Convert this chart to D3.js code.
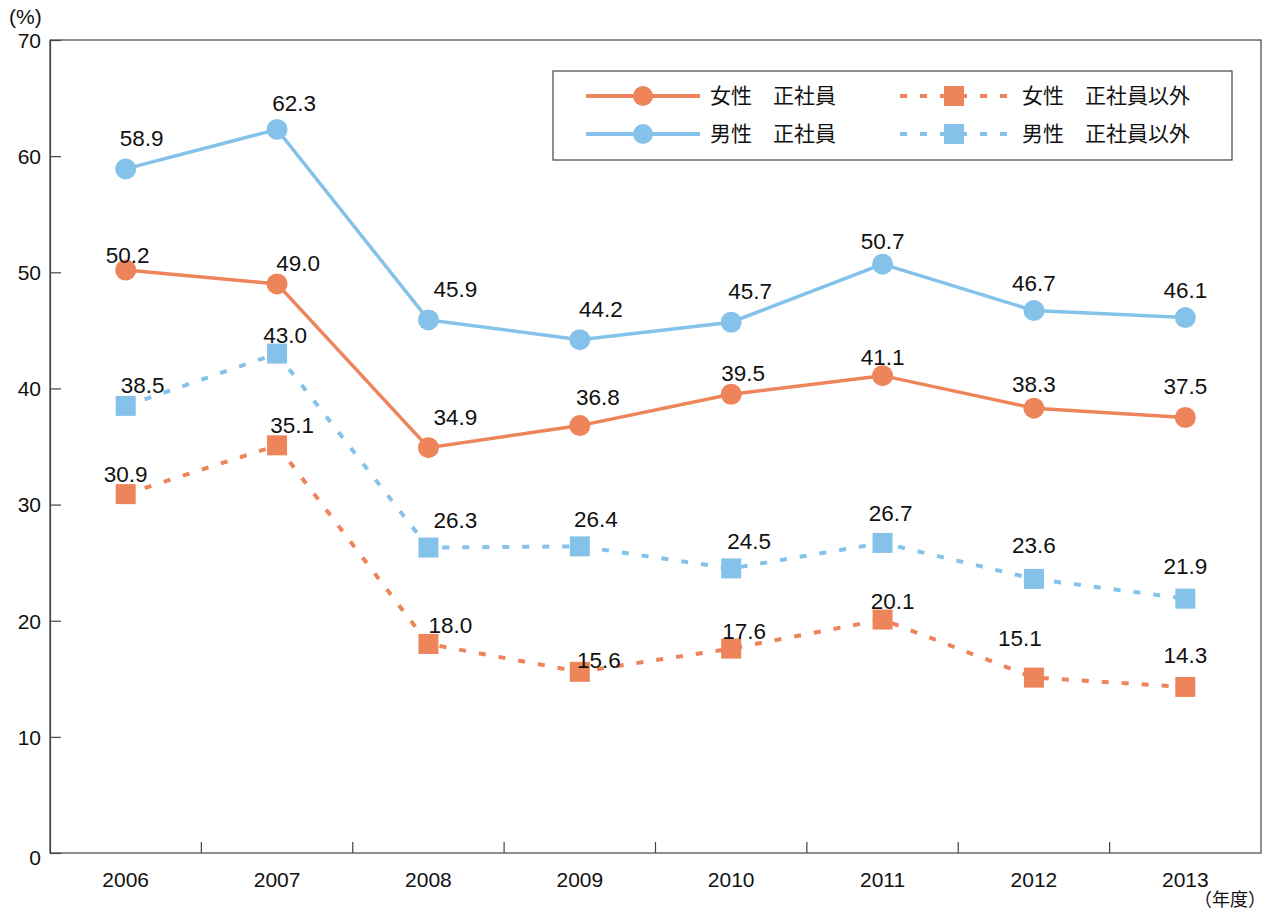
<!DOCTYPE html>
<html>
<head>
<meta charset="utf-8">
<script src="https://cdn.jsdelivr.net/npm/d3@7"></script>
<style>
  body { margin: 0; background: #fff; }
  text { font-family: "Liberation Sans", Arial, "Noto Sans CJK JP", sans-serif; fill: #111; }
  .jp { font-family: "Noto Sans CJK JP", sans-serif; }
</style>
</head>
<body>
<div id="chart"></div>
<script>
const years = ["2006", "2007", "2008", "2009", "2010", "2011", "2012", "2013"];
const yTicks = [0, 10, 20, 30, 40, 50, 60, 70];

// 女性 正社員
const womenRegular = [50.2, 49.0, 34.9, 36.8, 39.5, 41.1, 38.3, 37.5];
// 男性 正社員
const menRegular = [58.9, 62.3, 45.9, 44.2, 45.7, 50.7, 46.7, 46.1];
// 女性 正社員以外
const womenNonRegular = [30.9, 35.1, 18.0, 15.6, 17.6, 20.1, 15.1, 14.3];
// 男性 正社員以外
const menNonRegular = [38.5, 43.0, 26.3, 26.4, 24.5, 26.7, 23.6, 21.9];

const seriesNames = ["女性　正社員", "男性　正社員", "女性　正社員以外", "男性　正社員以外"];

// label nudges (px) relative to each point, per series
const labelNudge = {
  womenRegular:    [[2,-15],[21,-21],[27,-31],[18,-29],[12,-21],[0,-19],[0,-24],[0,-32]],
  menRegular:      [[16,-31],[17,-27],[27,-31],[21,-31],[19,-31],[0,-23],[0,-28],[0,-28]],
  womenNonRegular: [[0,-20],[15,-20],[22,-19],[19,-12],[13,-18],[10,-19],[-14,-40],[0,-32]],
  menNonRegular:   [[17,-21],[8,-19],[27,-28],[16,-27],[18,-28],[8,-30],[0,-34],[0,-33]]
};

const orange = "#ee845a", blue = "#84c2ea";

const W = 1265, H = 915;
const margin = {top: 40, right: 4, bottom: 62, left: 50};
const width = W - margin.left - margin.right,
      height = H - margin.top - margin.bottom;

const root = d3.select("#chart").append("svg")
    .attr("width", W).attr("height", H);
const svg = root.append("g")
    .attr("transform", `translate(${margin.left},${margin.top})`);

const x = d3.scaleBand().domain(years).range([0, width]);
const y = d3.scaleLinear().domain([0, 70]).range([height, 0]);
const cx = d => x(d) + x.bandwidth() / 2;

// frame
svg.append("rect")
    .attr("width", width).attr("height", height)
    .attr("fill", "none").attr("stroke", "#444").attr("stroke-width", 1.2);

// y axis, ticks inward
const yAxis = svg.append("g")
    .call(d3.axisLeft(y).tickValues(yTicks).tickSize(-11).tickPadding(20).tickFormat(d3.format("d")));
yAxis.select(".domain").attr("stroke", "#444").attr("stroke-width", 1.2);
yAxis.selectAll(".tick line").attr("stroke", "#444").attr("stroke-width", 1.2);
yAxis.selectAll(".tick text").attr("font-size", 21).attr("x", -9)
    .attr("dy", (d) => d === 0 ? "0.55em" : "0.35em");

// x axis: labels centered, ticks at band boundaries going up
const xAxis = svg.append("g")
    .attr("transform", `translate(0,${height})`)
    .call(d3.axisBottom(x).tickSize(0).tickPadding(19));
xAxis.select(".domain").remove();
xAxis.selectAll(".tick text").attr("font-size", 21);
svg.append("g").selectAll("line")
    .data(years.slice(1))
    .join("line")
    .attr("x1", d => x(d)).attr("x2", d => x(d))
    .attr("y1", height).attr("y2", height - 11)
    .attr("stroke", "#444").attr("stroke-width", 1.2);

root.append("text")
    .attr("x", 9).attr("y", 24).attr("font-size", 21).text("(%)");
root.append("text").attr("class", "jp")
    .attr("x", 1266).attr("y", 906).attr("text-anchor", "end").attr("font-size", 18).text("（年度）");

const series = [
  {key: "womenNonRegular", values: womenNonRegular, color: orange, dashed: true},
  {key: "menNonRegular", values: menNonRegular, color: blue, dashed: true},
  {key: "womenRegular", values: womenRegular, color: orange, dashed: false},
  {key: "menRegular", values: menRegular, color: blue, dashed: false}
];

const line = d3.line().x((d, i) => cx(years[i])).y(d => y(d));

series.forEach(s => {
  const g = svg.append("g");
  g.append("path")
      .datum(s.values)
      .attr("fill", "none")
      .attr("stroke", s.color)
      .attr("stroke-width", s.dashed ? 4 : 3.5)
      .attr("stroke-dasharray", s.dashed ? "7,13" : null)
      .attr("d", line);
  if (s.dashed) {
    g.selectAll("rect").data(s.values).join("rect")
        .attr("x", (d, i) => cx(years[i]) - 10)
        .attr("y", d => y(d) - 10)
        .attr("width", 20).attr("height", 20)
        .attr("fill", s.color);
  } else {
    g.selectAll("circle").data(s.values).join("circle")
        .attr("cx", (d, i) => cx(years[i]))
        .attr("cy", d => y(d))
        .attr("r", 10.5)
        .attr("fill", s.color);
  }
  g.selectAll("text").data(s.values).join("text")
      .attr("x", (d, i) => cx(years[i]) + labelNudge[s.key][i][0])
      .attr("y", (d, i) => y(d) + labelNudge[s.key][i][1])
      .attr("dy", "0.36em")
      .attr("text-anchor", "middle")
      .attr("font-size", 22.5)
      .text(d => d3.format(".1f")(d));
});

// legend
const lg = root.append("g");
lg.append("rect")
    .attr("x", 553).attr("y", 71).attr("width", 679).attr("height", 89)
    .attr("fill", "#fff").attr("stroke", "#444").attr("stroke-width", 1.2);
const legendItems = [
  {name: seriesNames[0], color: orange, dashed: false, col: 0, row: 0},
  {name: seriesNames[1], color: blue, dashed: false, col: 0, row: 1},
  {name: seriesNames[2], color: orange, dashed: true, col: 1, row: 0},
  {name: seriesNames[3], color: blue, dashed: true, col: 1, row: 1}
];
const colX = [586, 898], rowY = [96, 134];
legendItems.forEach(it => {
  const x0 = colX[it.col], yy = rowY[it.row];
  lg.append("line")
      .attr("x1", x0).attr("x2", x0 + 114).attr("y1", yy).attr("y2", yy)
      .attr("stroke", it.color).attr("stroke-width", 4)
      .attr("stroke-dasharray", it.dashed ? "7,13" : null)
      .attr("stroke-dashoffset", it.dashed ? -2 : 0);
  if (it.dashed) {
    lg.append("rect").attr("x", x0 + 56 - 10).attr("y", yy - 10)
        .attr("width", 20).attr("height", 20).attr("fill", it.color);
  } else {
    lg.append("circle").attr("cx", x0 + 57).attr("cy", yy).attr("r", 10).attr("fill", it.color);
  }
  lg.append("text").attr("class", "jp")
      .attr("x", x0 + 124).attr("y", yy).attr("dy", "0.35em")
      .attr("font-size", 21).text(it.name);
});
</script>
</body>
</html>
